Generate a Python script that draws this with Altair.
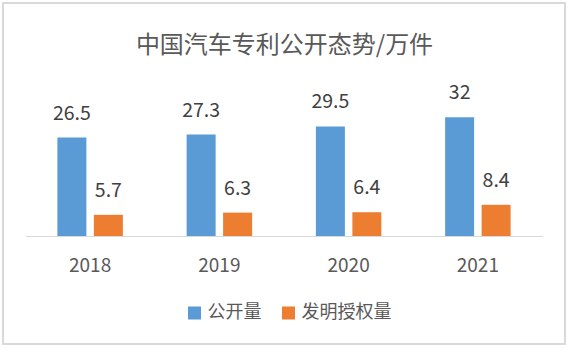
import altair as alt
import pandas as pd

years = ["2018", "2019", "2020", "2021"]
series = ["公开量", "发明授权量"]
public_vals = [26.5, 27.3, 29.5, 32]
grant_vals = [5.7, 6.3, 6.4, 8.4]
colors = ["#5B9BD5", "#ED7D31"]
title_text = "中国汽车专利公开态势/万件"

rows = []
for i, y in enumerate(years):
    rows.append({"year": y, "series": series[0], "value": public_vals[i]})
    rows.append({"year": y, "series": series[1], "value": grant_vals[i]})
df = pd.DataFrame(rows)

FONT = "Noto Sans CJK SC"

x_enc = alt.X("year:N", sort=years,
              scale=alt.Scale(paddingInner=0.4934, paddingOuter=0.2467),
              axis=alt.Axis(title=None, labelAngle=0, ticks=False, labelFontSize=19,
                            labelColor="#595959", labelFont=FONT, labelPadding=21,
                            domainColor="#D9D9D9", domainWidth=1))
xo_enc = alt.XOffset("series:N", sort=series,
                     scale=alt.Scale(domain=series, paddingInner=0.205, paddingOuter=0))
y_enc = alt.Y("value:Q", scale=alt.Scale(domain=[0, 35]), axis=None)

bars = alt.Chart(df).mark_bar().encode(
    x=x_enc,
    xOffset=xo_enc,
    y=y_enc,
    color=alt.Color("series:N", sort=series,
                    scale=alt.Scale(domain=series, range=colors),
                    legend=alt.Legend(title=None, orient="none", direction="horizontal",
                                      legendX=160, legendY=198,
                                      symbolType="square", symbolSize=169,
                                      symbolStrokeWidth=0, labelFontSize=18,
                                      labelFont=FONT, labelColor="#595959",
                                      labelOffset=4, columnPadding=18)),
)

labels = alt.Chart(df).mark_text(fontSize=19.5, font=FONT, color="#404040",
                                 dy=-24, baseline="middle").encode(
    x=alt.X("year:N", sort=years),
    xOffset=alt.XOffset("series:N", sort=series),
    y=alt.Y("value:Q"),
    text=alt.Text("value:Q", format="~g"),
)

frame = alt.Chart(alt.Data(values=[{"a": 1}])).mark_rect(
    filled=False, stroke="#D9D9D9", strokeWidth=2
).encode(
    x=alt.value(-22.5), x2=alt.value(539.5),
    y=alt.value(-103), y2=alt.value(238),
)

title = alt.Chart(alt.Data(values=[{"t": title_text}])).mark_text(
    fontSize=24, font=FONT, color="#595959", align="center", baseline="middle"
).encode(
    x=alt.value(259), y=alt.value(-60), text="t:N"
)

chart = alt.layer(frame, bars, labels, title).properties(
    width=517, height=130,
    autosize=alt.AutoSizeParams(type="none"),
    padding={"left": 25.5, "top": 106, "right": 27.4, "bottom": 113},
    background="white",
).configure_view(stroke=None)

chart.save("out.html", embed_options={"renderer": "svg", "actions": False})
